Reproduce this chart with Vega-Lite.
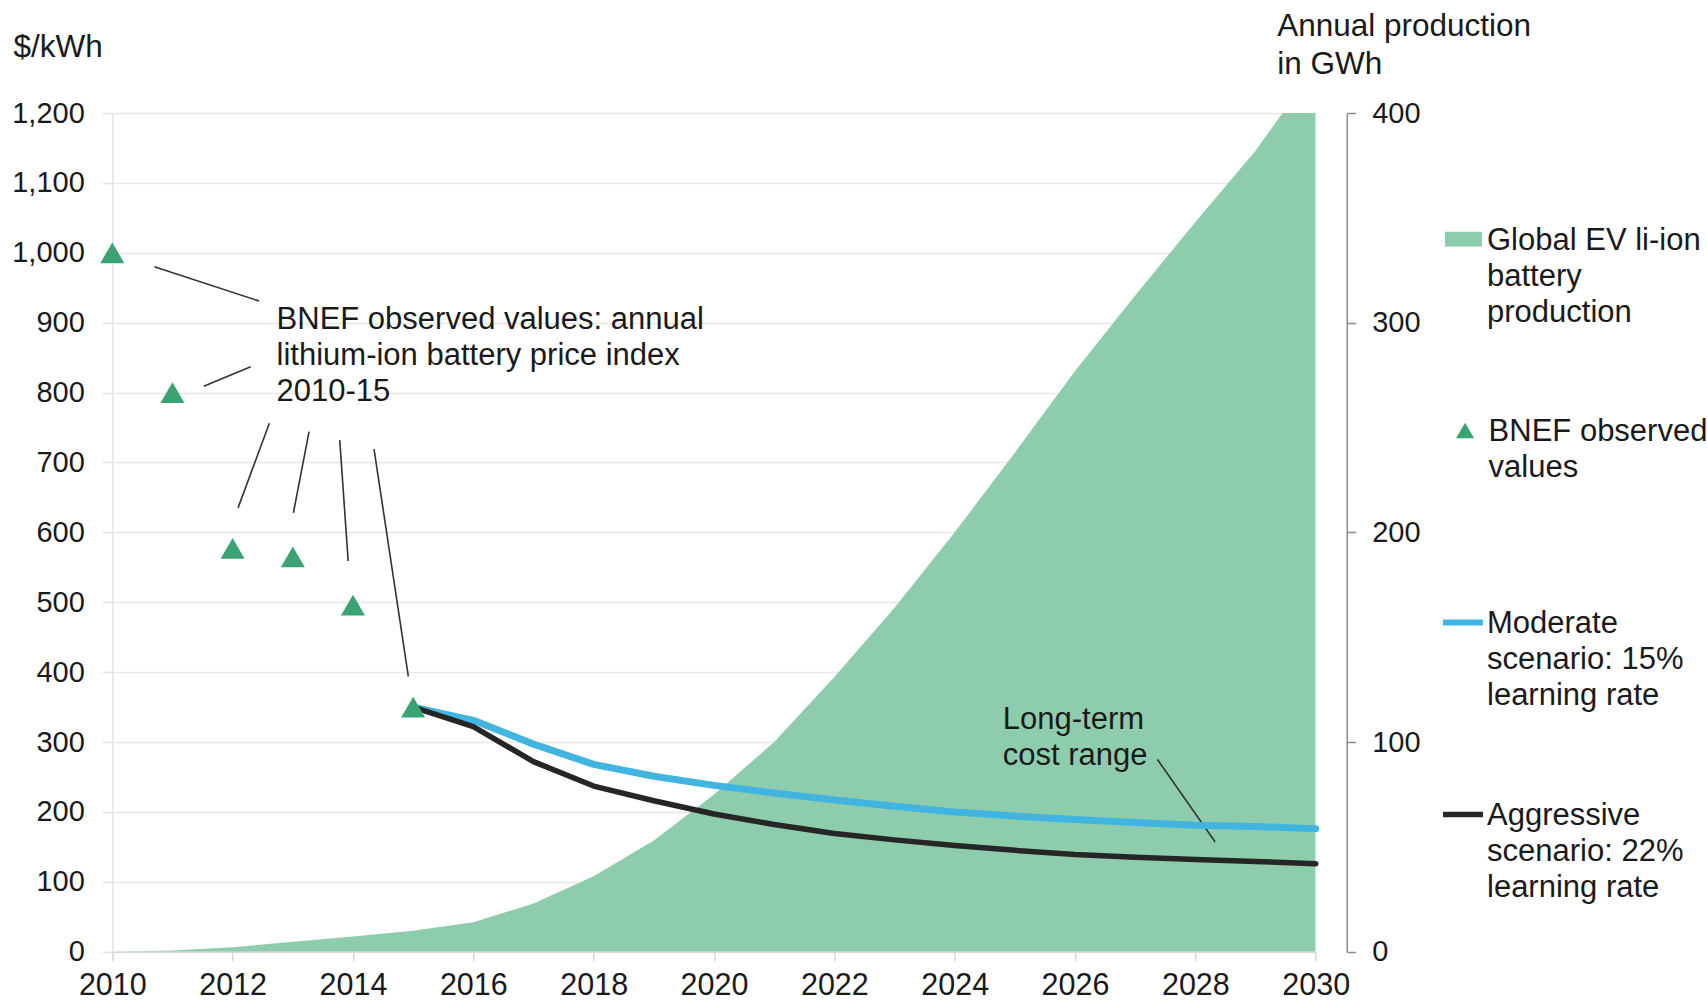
{
  "$schema": "https://vega.github.io/schema/vega-lite/v6.json",
  "width": 1203.4,
  "height": 838.7,
  "autosize": {"type": "none"},
  "padding": {"left": 112.3, "top": 113, "right": 391.3, "bottom": 50.3},
  "background": "white",
  "config": {
    "view": {"stroke": null},
    "font": "Liberation Sans",
    "axis": {
      "labelFont": "Liberation Sans",
      "labelFontSize": 29,
      "labelColor": "#1a1a1a",
      "titleFont": "Liberation Sans",
      "titleFontSize": 31.5,
      "titleFontWeight": "normal",
      "titleColor": "#1a1a1a"
    },
    "legend": {
      "labelFont": "Liberation Sans",
      "labelFontSize": 31,
      "labelColor": "#1a1a1a",
      "labelLimit": 0,
      "padding": 0,
      "orient": "none"
    }
  },
  "datasets": {
    "production": [
      {"year": 2010, "gwh": 0, "series": "Global EV li-ion battery production"},
      {"year": 2011, "gwh": 0.6, "series": "Global EV li-ion battery production"},
      {"year": 2012, "gwh": 2.1, "series": "Global EV li-ion battery production"},
      {"year": 2013, "gwh": 4.7, "series": "Global EV li-ion battery production"},
      {"year": 2014, "gwh": 7.2, "series": "Global EV li-ion battery production"},
      {"year": 2015, "gwh": 10, "series": "Global EV li-ion battery production"},
      {"year": 2016, "gwh": 14, "series": "Global EV li-ion battery production"},
      {"year": 2017, "gwh": 23, "series": "Global EV li-ion battery production"},
      {"year": 2018, "gwh": 36, "series": "Global EV li-ion battery production"},
      {"year": 2019, "gwh": 53, "series": "Global EV li-ion battery production"},
      {"year": 2020, "gwh": 75, "series": "Global EV li-ion battery production"},
      {"year": 2021, "gwh": 100, "series": "Global EV li-ion battery production"},
      {"year": 2022, "gwh": 131, "series": "Global EV li-ion battery production"},
      {"year": 2023, "gwh": 164, "series": "Global EV li-ion battery production"},
      {"year": 2024, "gwh": 200, "series": "Global EV li-ion battery production"},
      {"year": 2025, "gwh": 238, "series": "Global EV li-ion battery production"},
      {"year": 2026, "gwh": 277, "series": "Global EV li-ion battery production"},
      {"year": 2027, "gwh": 313, "series": "Global EV li-ion battery production"},
      {"year": 2028, "gwh": 348, "series": "Global EV li-ion battery production"},
      {"year": 2029, "gwh": 382, "series": "Global EV li-ion battery production"},
      {"year": 2030, "gwh": 422, "series": "Global EV li-ion battery production"}
    ],
    "observed": [
      {"year": 2010, "usd": 1000, "series": "BNEF observed values"},
      {"year": 2011, "usd": 800, "series": "BNEF observed values"},
      {"year": 2012, "usd": 577, "series": "BNEF observed values"},
      {"year": 2013, "usd": 565, "series": "BNEF observed values"},
      {"year": 2014, "usd": 496, "series": "BNEF observed values"},
      {"year": 2015, "usd": 350, "series": "BNEF observed values"}
    ],
    "scenarios": [
      {"year": 2015, "usd": 350, "scenario": "Moderate scenario: 15% learning rate"},
      {"year": 2016, "usd": 331, "scenario": "Moderate scenario: 15% learning rate"},
      {"year": 2017, "usd": 297, "scenario": "Moderate scenario: 15% learning rate"},
      {"year": 2018, "usd": 268, "scenario": "Moderate scenario: 15% learning rate"},
      {"year": 2019, "usd": 251, "scenario": "Moderate scenario: 15% learning rate"},
      {"year": 2020, "usd": 238, "scenario": "Moderate scenario: 15% learning rate"},
      {"year": 2021, "usd": 227, "scenario": "Moderate scenario: 15% learning rate"},
      {"year": 2022, "usd": 217, "scenario": "Moderate scenario: 15% learning rate"},
      {"year": 2023, "usd": 208, "scenario": "Moderate scenario: 15% learning rate"},
      {"year": 2024, "usd": 200, "scenario": "Moderate scenario: 15% learning rate"},
      {"year": 2025, "usd": 194, "scenario": "Moderate scenario: 15% learning rate"},
      {"year": 2026, "usd": 189, "scenario": "Moderate scenario: 15% learning rate"},
      {"year": 2027, "usd": 185, "scenario": "Moderate scenario: 15% learning rate"},
      {"year": 2028, "usd": 181, "scenario": "Moderate scenario: 15% learning rate"},
      {"year": 2029, "usd": 179, "scenario": "Moderate scenario: 15% learning rate"},
      {"year": 2030, "usd": 176, "scenario": "Moderate scenario: 15% learning rate"},
      {"year": 2015, "usd": 350, "scenario": "Aggressive scenario: 22% learning rate"},
      {"year": 2016, "usd": 322, "scenario": "Aggressive scenario: 22% learning rate"},
      {"year": 2017, "usd": 272, "scenario": "Aggressive scenario: 22% learning rate"},
      {"year": 2018, "usd": 237, "scenario": "Aggressive scenario: 22% learning rate"},
      {"year": 2019, "usd": 216, "scenario": "Aggressive scenario: 22% learning rate"},
      {"year": 2020, "usd": 197, "scenario": "Aggressive scenario: 22% learning rate"},
      {"year": 2021, "usd": 182, "scenario": "Aggressive scenario: 22% learning rate"},
      {"year": 2022, "usd": 169, "scenario": "Aggressive scenario: 22% learning rate"},
      {"year": 2023, "usd": 160, "scenario": "Aggressive scenario: 22% learning rate"},
      {"year": 2024, "usd": 152, "scenario": "Aggressive scenario: 22% learning rate"},
      {"year": 2025, "usd": 145, "scenario": "Aggressive scenario: 22% learning rate"},
      {"year": 2026, "usd": 139, "scenario": "Aggressive scenario: 22% learning rate"},
      {"year": 2027, "usd": 135, "scenario": "Aggressive scenario: 22% learning rate"},
      {"year": 2028, "usd": 132, "scenario": "Aggressive scenario: 22% learning rate"},
      {"year": 2029, "usd": 129, "scenario": "Aggressive scenario: 22% learning rate"},
      {"year": 2030, "usd": 126, "scenario": "Aggressive scenario: 22% learning rate"}
    ],
    "notes": [
      {"year": 2012.73, "usd": 926, "note": "BNEF observed values: annual\nlithium-ion battery price index\n2010-15"},
      {"year": 2024.8, "usd": 353, "note": "Long-term\ncost range"}
    ],
    "leaders": [
      {"year": 2010.70, "usd": 980, "year2": 2012.44, "usd2": 931},
      {"year": 2011.52, "usd": 809, "year2": 2012.30, "usd2": 837},
      {"year": 2012.09, "usd": 635, "year2": 2012.61, "usd2": 756},
      {"year": 2013.01, "usd": 628, "year2": 2013.27, "usd2": 744},
      {"year": 2013.92, "usd": 559, "year2": 2013.78, "usd2": 732},
      {"year": 2014.92, "usd": 394, "year2": 2014.35, "usd2": 719},
      {"year": 2027.37, "usd": 275, "year2": 2028.33, "usd2": 157}
    ]
  },
  "encoding": {
    "x": {
      "field": "year",
      "type": "quantitative",
      "scale": {"domain": [2010, 2030], "nice": false, "zero": false},
      "axis": {
        "title": null,
        "values": [2010, 2012, 2014, 2016, 2018, 2020, 2022, 2024, 2026, 2028, 2030],
        "format": "d",
        "grid": false,
        "labelFlush": false,
        "labelOverlap": false,
        "labelFontSize": 30.5,
        "domainColor": "#d9d9d9",
        "domainWidth": 1.5,
        "tickColor": "#d9d9d9",
        "tickWidth": 1.5,
        "tickSize": 9,
        "labelPadding": 10
      }
    }
  },
  "layer": [
    {
      "data": {"name": "production"},
      "mark": {"type": "area", "clip": true, "opacity": 1},
      "encoding": {
        "y": {
          "field": "gwh",
          "type": "quantitative",
          "scale": {"domain": [0, 400], "nice": false},
          "axis": {
            "orient": "right",
            "offset": 31,
            "values": [0, 100, 200, 300, 400],
            "grid": false,
            "domainColor": "#8c8c8c",
            "domainWidth": 1.5,
            "tickColor": "#8c8c8c",
            "tickWidth": 1.5,
            "tickSize": 9,
            "labelPadding": 16,
            "title": ["Annual production", "in GWh"],
            "titleAngle": 0,
            "titleAlign": "left",
            "titleBaseline": "top",
            "titleLineHeight": 38.5,
            "titleX": -70,
            "titleY": -103
          }
        },
        "color": {
          "field": "series",
          "type": "nominal",
          "scale": {"range": ["#8dcdae"]},
          "legend": {
            "legendX": 1332.7,
            "legendY": 107.6,
            "title": null,
            "symbolType": "M-1,-0.4H1V0.4H-1Z",
            "symbolSize": 1369,
            "symbolStrokeWidth": 0,
            "labelOffset": 5,
            "labelBaseline": "top",
            "labelExpr": "['Global EV li-ion', 'battery', 'production']",
            "encoding": {"labels": {"lineHeight": {"value": 36}, "dy": {"value": -13.4}}}
          }
        }
      }
    },
    {
      "encoding": {
        "y": {
          "field": "usd",
          "type": "quantitative",
          "scale": {"domain": [0, 1200], "nice": false},
          "axis": {
            "orient": "left",
            "values": [0, 100, 200, 300, 400, 500, 600, 700, 800, 900, 1000, 1100, 1200],
            "format": ",d",
            "grid": true,
            "gridColor": "#e8e8e8",
            "gridWidth": 1.5,
            "domainColor": "#e3e3e3",
            "domainWidth": 1.5,
            "tickColor": "#e3e3e3",
            "tickWidth": 1.5,
            "tickSize": 10,
            "labelPadding": 18,
            "title": "$/kWh",
            "titleAngle": 0,
            "titleAlign": "left",
            "titleBaseline": "top",
            "titleX": -99.3,
            "titleY": -81.5
          }
        }
      },
      "layer": [
        {
          "data": {"name": "leaders"},
          "mark": {"type": "rule", "color": "#333333", "strokeWidth": 1.6},
          "encoding": {
            "x2": {"field": "year2"},
            "y2": {"field": "usd2"}
          }
        },
        {
          "data": {"name": "scenarios"},
          "transform": [{"filter": "datum.scenario === 'Moderate scenario: 15% learning rate'"}],
          "mark": {"type": "line", "strokeWidth": 7, "strokeJoin": "round", "strokeCap": "round"},
          "encoding": {
            "color": {
              "field": "scenario",
              "type": "nominal",
              "scale": {"range": ["#41b4e0"]},
              "legend": {
                "legendX": 1327.7,
                "legendY": 486.4,
                "title": null,
                "symbolType": "stroke",
                "symbolSize": 1600,
                "symbolStrokeWidth": 6,
                "labelOffset": 1,
                "labelBaseline": "top",
                "labelExpr": "['Moderate', 'scenario: 15%', 'learning rate']",
                "encoding": {"labels": {"lineHeight": {"value": 36}, "dy": {"value": -13.4}}}
              }
            }
          }
        },
        {
          "data": {"name": "scenarios"},
          "transform": [{"filter": "datum.scenario === 'Aggressive scenario: 22% learning rate'"}],
          "mark": {"type": "line", "strokeWidth": 5.5, "strokeJoin": "round", "strokeCap": "round"},
          "encoding": {
            "color": {
              "field": "scenario",
              "type": "nominal",
              "scale": {"range": ["#262626"]},
              "legend": {
                "legendX": 1327.7,
                "legendY": 678.5,
                "title": null,
                "symbolType": "stroke",
                "symbolSize": 1600,
                "symbolStrokeWidth": 5.5,
                "labelOffset": 1,
                "labelBaseline": "top",
                "labelExpr": "['Aggressive', 'scenario: 22%', 'learning rate']",
                "encoding": {"labels": {"lineHeight": {"value": 36}, "dy": {"value": -13.4}}}
              }
            }
          }
        },
        {
          "data": {"name": "observed"},
          "mark": {"type": "point", "shape": "triangle-up", "filled": true, "size": 576, "opacity": 1},
          "encoding": {
            "color": {
              "field": "series",
              "type": "nominal",
              "scale": {"range": ["#3aa273"]},
              "legend": {
                "legendX": 1337.3,
                "legendY": 302,
                "title": null,
                "symbolType": "triangle-up",
                "symbolSize": 324,
                "symbolStrokeWidth": 0,
                "symbolOpacity": 1,
                "labelOffset": 8,
                "labelBaseline": "top",
                "labelExpr": "['BNEF observed', 'values']",
                "encoding": {"labels": {"lineHeight": {"value": 36}, "dy": {"value": -13.4}}}
              }
            }
          }
        },
        {
          "data": {"name": "notes"},
          "mark": {"type": "text", "align": "left", "baseline": "top", "fontSize": 31, "lineHeight": 36, "lineBreak": "\n", "color": "#1a1a1a", "font": "Liberation Sans"},
          "encoding": {
            "text": {"field": "note"}
          }
        }
      ],
      "resolve": {"scale": {"color": "independent"}}
    }
  ],
  "resolve": {"scale": {"y": "independent", "color": "independent"}}
}
